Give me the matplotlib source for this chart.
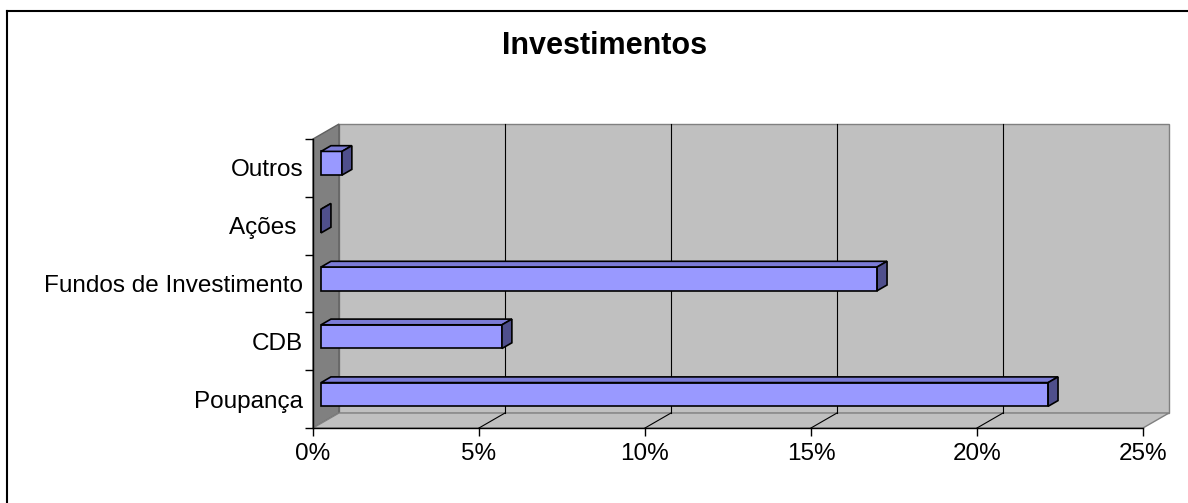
import matplotlib.pyplot as plt
from matplotlib.patches import Polygon
from matplotlib.lines import Line2D

# data
categorias = ["Poupança", "CDB", "Fundos de Investimento", "Ações ", "Outros"]
valores = [21.9, 5.45, 16.75, 0.0, 0.63]
xticks = [0, 5, 10, 15, 20, 25]
xlabels = ["0%", "5%", "10%", "15%", "20%", "25%"]

plt.rcParams['font.family'] = ['Liberation Sans', 'DejaVu Sans']

W, H = 1188, 503
fig = plt.figure(figsize=(W / 100, H / 100), dpi=100)
ax = fig.add_axes([313 / W, (H - 428) / H, 830 / W, 289 / H])
ax.set_xlim(0, 25)
ax.set_ylim(-0.5, 4.5)

# depth of the fake 3d box, in data units
DX = 26 * 25 / 830
DY = 15 * 5 / 289
f0, f1 = 0.31, 0.69
bh = 0.41

wall = '#C0C0C0'
side = '#808080'

# back wall, side wall, floor
ax.add_patch(Polygon([(DX, -0.5 + DY), (25 + DX, -0.5 + DY), (25 + DX, 4.5 + DY), (DX, 4.5 + DY)],
                     closed=True, fc=wall, ec='#808080', lw=1, clip_on=False, zorder=1))
ax.add_patch(Polygon([(0, -0.5), (DX, -0.5 + DY), (DX, 4.5 + DY), (0, 4.5)],
                     closed=True, fc=side, ec='#606060', lw=1, clip_on=False, zorder=1))
ax.add_patch(Polygon([(0, -0.5), (25, -0.5), (25 + DX, -0.5 + DY), (DX, -0.5 + DY)],
                     closed=True, fc=wall, ec='#808080', lw=1, clip_on=False, zorder=1))

# gridlines on the back wall and the floor
for x in xticks[1:]:
    if x < 25:
        ax.plot([x + DX, x + DX], [-0.5 + DY, 4.5 + DY], color='black', lw=0.8, clip_on=False, zorder=2)
        ax.plot([x, x + DX], [-0.5, -0.5 + DY], color='black', lw=0.8, clip_on=False, zorder=2)

# bars
front = '#9999FF'
top = '#7B7BD6'
right = '#4F4F8C'
for i, v in enumerate(valores):
    b0 = i - bh / 2 + f0 * DY
    t0 = i + bh / 2 + f0 * DY
    b1 = i - bh / 2 + f1 * DY
    t1 = i + bh / 2 + f1 * DY
    x0 = f0 * DX
    x1 = f1 * DX
    ax.add_patch(Polygon([(x0, b0), (v + x0, b0), (v + x0, t0), (x0, t0)],
                         closed=True, fc=front, ec='black', lw=1.2, zorder=3))
    ax.add_patch(Polygon([(x0, t0), (v + x0, t0), (v + x1, t1), (x1, t1)],
                         closed=True, fc=top, ec='black', lw=1.2, zorder=3))
    ax.add_patch(Polygon([(v + x0, b0), (v + x1, b1), (v + x1, t1), (v + x0, t0)],
                         closed=True, fc=right, ec='black', lw=1.2, zorder=3))

# axes
for s in ['top', 'right']:
    ax.spines[s].set_visible(False)
for s in ['left', 'bottom']:
    ax.spines[s].set_linewidth(1)
    ax.spines[s].set_zorder(4)
ax.set_facecolor('none')

ax.set_xticks(xticks)
ax.set_xticklabels(xlabels, fontsize=17.5)
ax.set_yticks(range(len(categorias)))
ax.set_yticklabels(categorias, fontsize=17.5)
ax.set_yticks([i - 0.5 for i in range(len(categorias) + 1)], minor=True)
ax.tick_params(axis='y', which='major', length=0, pad=7)
ax.tick_params(axis='y', which='minor', length=6, width=1, direction='out')
ax.tick_params(axis='x', length=6, width=1, direction='out', pad=5)

fig.text(605 / W, 1 - 46 / H, "Investimentos", fontsize=22, fontweight='bold',
         ha='center', va='center')

# chart border (top and left only visible)
fig.add_artist(Line2D([7 / W, 1], [1 - 11 / H, 1 - 11 / H], color='black', lw=1.5))
fig.add_artist(Line2D([7 / W, 7 / W], [0, 1 - 11 / H], color='black', lw=1.5))

fig.savefig('out.png', dpi=100, facecolor='white')
